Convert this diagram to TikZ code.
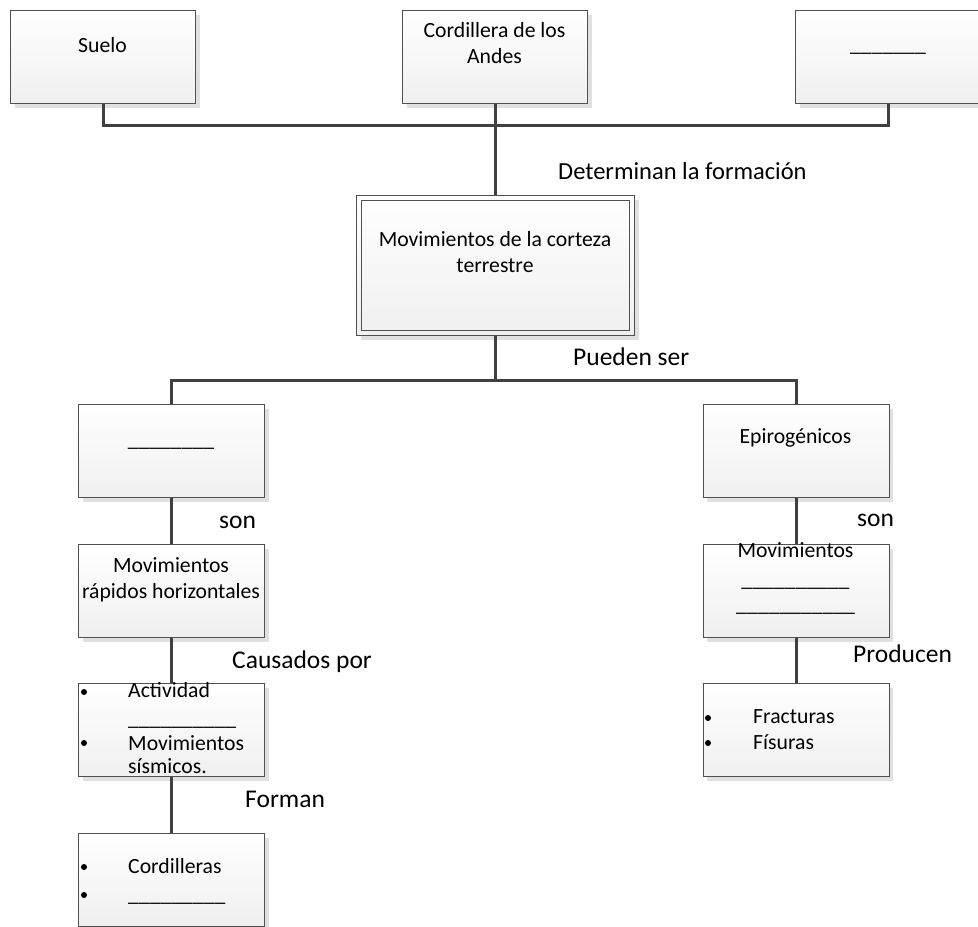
\documentclass[tikz,border=0pt]{standalone}
\usepackage{fontspec}
\setmainfont{Carlito}
\usetikzlibrary{shadows}
\definecolor{edge}{HTML}{505050}
\definecolor{wire}{HTML}{404040}
\definecolor{shade}{HTML}{E0E0E0}
\tikzset{
  card/.style={draw=edge, line width=1pt, top color=white, bottom color=black!6,
    anchor=north west, inner sep=0pt,
    general shadow={fill=shade, shadow xshift=4pt, shadow yshift=-4pt}},
  smallcard/.style={card, minimum width=186pt, minimum height=93pt},
  wirepath/.style={draw=wire, line width=3pt},
  boxtext/.style={inner sep=0pt, anchor=base, font=\fontsize{21.7}{26}\selectfont},
  listtext/.style={boxtext, anchor=base west},
  linklabel/.style={inner sep=0pt, anchor=base west, font=\fontsize{25.5}{30}\selectfont},
  dot/.style={circle, fill=black, inner sep=0pt, minimum size=6pt},
}
\begin{document}
\begin{tikzpicture}[x=1pt,y=-1pt]
\useasboundingbox (0,0) rectangle (978,927);
\clip (0,0) rectangle (978,927);

% top row
\node[smallcard, minimum width=185pt] (suelo) at (10,10) {};
\node[smallcard, minimum width=185pt] (andes) at (402,10) {};
\node[smallcard, minimum width=185pt] (blanco) at (795,10) {};

% central concept with its double frame
\node[card, minimum width=278pt, minimum height=140pt] (corteza) at (356,195) {};
\draw[edge, line width=1pt] ([shift={(5.5pt,-5.5pt)}]corteza.north west)
  rectangle ([shift={(-5.5pt,5.5pt)}]corteza.south east);

% left branch
\node[smallcard] (tipo) at (78,404) {};
\node[smallcard] (rapidos) at (78,544) {};
\node[smallcard] (causas) at (78,683) {};
\node[smallcard] (relieve) at (78,833) {};

% right branch
\node[smallcard] (epiro) at (702.5,404) {};
\node[smallcard] (lentos) at (702.5,544) {};
\node[smallcard] (efectos) at (702.5,683) {};

% connectors
\coordinate (hubtop) at (andes.south |- 0,125);
\draw[wirepath] (suelo.south) |- (hubtop) -| (blanco.south);
\draw[wirepath] (andes.south) -- (andes.south |- corteza.north);
\coordinate (hubmid) at (corteza.south |- 0,380);
\draw[wirepath] (corteza.south) -- (hubmid);
\draw[wirepath] (tipo.north) |- (hubmid) -| (epiro.north);
\draw[wirepath] (tipo.south) -- (rapidos.north);
\draw[wirepath] (rapidos.south) -- (causas.north);
\draw[wirepath] (causas.south) -- (relieve.north);
\draw[wirepath] (epiro.south) -- (lentos.north);
\draw[wirepath] (lentos.south) -- (efectos.north);

% box texts
\node[boxtext] (t1) at (102.5,52) {Suelo};
\node[boxtext] (t2) at (494.5,37) {Cordillera de los};
\node[boxtext] (t3) at (494.5,63) {Andes};
\node[boxtext] (t4) at (888,51) {\_\_\_\_\_\_\_};
\node[boxtext] (t5) at (495,246) {Movimientos de la corteza};
\node[boxtext] (t6) at (495,272) {terrestre};
\node[boxtext] (t7) at (171,446) {\_\_\_\_\_\_\_\_};
\node[boxtext] (t8) at (171,572) {Movimientos};
\node[boxtext] (t9) at (171,598) {rápidos horizontales};
\node[boxtext] (t10) at (795.5,443) {Epirogénicos};
\node[boxtext] (t11) at (795.5,557) {Movimientos};
\node[boxtext] (t12) at (795.5,586) {\_\_\_\_\_\_\_\_\_\_};
\node[boxtext] (t13) at (795.5,611) {\_\_\_\_\_\_\_\_\_\_\_};

% bulleted lists
\node[dot] (d1) at (84,692) {};
\node[listtext] (l1) at (128,697) {Actividad};
\node[listtext] (l2) at (128,725) {\_\_\_\_\_\_\_\_\_\_};
\node[dot] (d2) at (84,743) {};
\node[listtext] (l3) at (128,750) {Movimientos};
\node[listtext] (l4) at (128,773) {sísmicos.};

\node[dot] (d3) at (84,867) {};
\node[listtext] (l5) at (128,873) {Cordilleras};
\node[dot] (d4) at (84,895) {};
\node[listtext] (l6) at (128,901) {\_\_\_\_\_\_\_\_\_};

\node[dot] (d5) at (708,718) {};
\node[listtext] (l7) at (753,723) {Fracturas};
\node[dot] (d6) at (708,743) {};
\node[listtext] (l8) at (753,749) {Físuras};

% connector labels
\node[linklabel, font=\fontsize{24.5}{29}\selectfont] (k1) at (558,179) {Determinan la formación};
\node[linklabel] (k2) at (573,365) {Pueden ser};
\node[linklabel] (k3) at (219,528) {son};
\node[linklabel] (k4) at (232,668) {Causados por};
\node[linklabel] (k5) at (245,807) {Forman};
\node[linklabel] (k6) at (857,526) {son};
\node[linklabel] (k7) at (853,662) {Producen};
\end{tikzpicture}
\end{document}
